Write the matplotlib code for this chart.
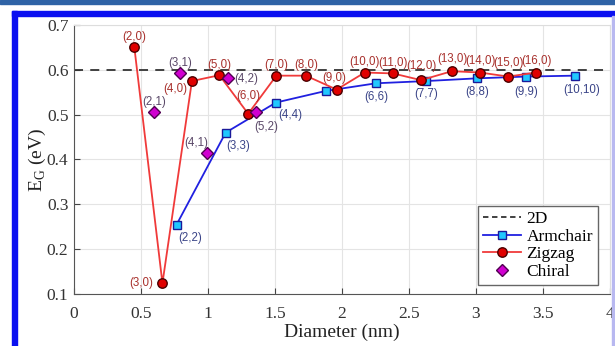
import matplotlib
matplotlib.use("Agg")
import matplotlib.pyplot as plt
from matplotlib.patches import Rectangle
from matplotlib.lines import Line2D

# ---- data ----
zig_labels = ["(2,0)", "(3,0)", "(4,0)", "(5,0)", "(6,0)", "(7,0)", "(8,0)", "(9,0)",
              "(10,0)", "(11,0)", "(12,0)", "(13,0)", "(14,0)", "(15,0)", "(16,0)"]
zig_d = [0.45, 0.66, 0.88, 1.085, 1.30, 1.51, 1.73, 1.96, 2.17, 2.38, 2.59, 2.82, 3.03, 3.24, 3.45]
zig_e = [0.651, 0.124, 0.575, 0.588, 0.502, 0.587, 0.587, 0.556, 0.594, 0.592, 0.577, 0.597, 0.594, 0.585, 0.594]

arm_labels = ["(2,2)", "(3,3)", "(4,4)", "", "(6,6)", "(7,7)", "(8,8)", "(9,9)", "(10,10)"]
arm_d = [0.766, 1.132, 1.507, 1.88, 2.254, 2.63, 3.005, 3.373, 3.739]
arm_e = [0.255, 0.460, 0.527, 0.553, 0.570, 0.575, 0.581, 0.585, 0.587]

chi_labels = ["(2,1)", "(3,1)", "(4,1)", "(4,2)", "(5,2)"]
chi_d = [0.60, 0.79, 0.995, 1.152, 1.358]
chi_e = [0.506, 0.592, 0.415, 0.582, 0.506]

e_2d = 0.6

x_ticks = [0, 0.5, 1, 1.5, 2, 2.5, 3, 3.5, 4]
x_ticklabels = ["0", "0.5", "1", "1.5", "2", "2.5", "3", "3.5", "4"]
y_ticks = [0.1, 0.2, 0.3, 0.4, 0.5, 0.6, 0.7]
y_ticklabels = ["0.1", "0.2", "0.3", "0.4", "0.5", "0.6", "0.7"]

# label offsets in points (dx, dy)
zig_off = [(0, 7.5), (-7, 0), (-12, -6), (0, 7.5), (0, 13), (0, 7.5), (0, 7.5), (-2, 8.5),
           (0, 7.5), (0, 7.5), (0, 10), (0, 9), (0, 8), (0, 10), (0, 8)]
zig_ha = ["center", "right", "center", "center", "center", "center", "center", "center",
          "center", "center", "center", "center", "center", "center", "center"]
arm_off = [(10, -10), (9, -9.5), (10, -9), (0, 0), (0, -10), (0, -9), (0, -10), (0, -11), (5, -10)]
chi_off = [(0, 7.5), (0, 7.5), (-8, 7), (13, -1), (7, -11)]

serif = "Liberation Serif"
sans = "Liberation Sans"
ann_size = 8.3

fig = plt.figure(figsize=(6.15, 3.46), dpi=100)

# decorative frame
fig.patches.append(Rectangle((0, 1 - 4 / 346), 1, 4 / 346, transform=fig.transFigure,
                             color="#2f63a6", zorder=0))
fig.patches.append(Rectangle((12 / 615, 0), 5 / 615, 1 - 11 / 346, transform=fig.transFigure,
                             color="#0a10f0", zorder=0))
fig.patches.append(Rectangle((12 / 615, 1 - 16 / 346), 1, 5 / 346, transform=fig.transFigure,
                             color="#0a10f0", zorder=0))
fig.patches.append(Rectangle((612 / 615, 0), 2 / 615, 1 - 16 / 346, transform=fig.transFigure,
                             color="#b8b8f0", zorder=0))

ax = fig.add_axes([74 / 615, 1 - 294 / 346, 536 / 615, 269 / 346])

ax.axhline(e_2d, color="#333333", ls=(0, (5, 4)), lw=1.3, zorder=2)
ax.plot(arm_d, arm_e, color="#2020e0", lw=1.3, marker="s", ms=5.2,
        mfc="#20c8ff", mec="#1a1a9a", mew=1.0, zorder=3)
ax.plot(zig_d, zig_e, color="#f03a3a", lw=1.3, marker="o", ms=6.8,
        mfc="#e00000", mec="#4a0000", mew=1.0, zorder=4)
ax.plot(chi_d, chi_e, ls="none", marker="D", ms=6,
        mfc="#d000d0", mec="#500050", mew=1.0, zorder=5)

for x, y, t, (dx, dy), ha in zip(zig_d, zig_e, zig_labels, zig_off, zig_ha):
    ax.annotate(t, (x, y), xytext=(dx, dy), textcoords="offset points", ha=ha, va="center",
                fontsize=ann_size, color="#a8302c", family=sans, zorder=6)
for x, y, t, (dx, dy) in zip(arm_d, arm_e, arm_labels, arm_off):
    if t:
        ax.annotate(t, (x, y), xytext=(dx, dy), textcoords="offset points", ha="center",
                    va="center", fontsize=ann_size, color="#3a4488", family=sans, zorder=6)
for x, y, t, (dx, dy) in zip(chi_d, chi_e, chi_labels, chi_off):
    ax.annotate(t, (x, y), xytext=(dx, dy), textcoords="offset points", ha="center",
                va="center", fontsize=ann_size, color="#5a4868", family=sans, zorder=6)

ax.set_xlim(0, 4)
ax.set_ylim(0.1, 0.7)
ax.set_xticks(x_ticks)
ax.set_xticklabels(x_ticklabels, family=serif, fontsize=12.5)
ax.set_yticks(y_ticks)
ax.set_yticklabels(y_ticklabels, family=serif, fontsize=12.5)
ax.tick_params(direction="in", length=4, color="#444444", labelcolor="#333333")
ax.tick_params(axis="x", pad=9)
ax.tick_params(axis="y", pad=4)
ax.grid(True, color="#e4e4e4", lw=0.8, zorder=0)
for s in ["left", "bottom"]:
    ax.spines[s].set_color("#555555")
for s in ["top", "right"]:
    ax.spines[s].set_color("#dddddd")

ax.set_xlabel("Diameter (nm)", family=serif, fontsize=14, color="#222222", labelpad=1)
ax.set_ylabel(r"E$_\mathregular{G}$ (eV)", family=serif, fontsize=14, color="#222222", labelpad=-1)

handles = [
    Line2D([], [], color="#333333", ls=(0, (3, 2)), lw=1.3),
    Line2D([], [], color="#2020e0", lw=1.3, marker="s", ms=5.2, mfc="#20c8ff", mec="#1a1a9a"),
    Line2D([], [], color="#f03a3a", lw=1.3, marker="o", ms=6.8, mfc="#e00000", mec="#4a0000"),
    Line2D([], [], ls="none", marker="D", ms=6, mfc="#d000d0", mec="#500050"),
]
leg = ax.legend(handles, ["2D", "Armchair", "Zigzag", "Chiral"], loc="lower right",
                bbox_to_anchor=(0.978, 0.033), prop={"family": serif, "size": 12.5},
                fancybox=False, framealpha=1, edgecolor="#666666", handlelength=2.2,
                handletextpad=0.3, borderpad=0.3, labelspacing=0.08, borderaxespad=0)
leg.get_frame().set_linewidth(1.0)

fig.savefig("out.png", dpi=100)
